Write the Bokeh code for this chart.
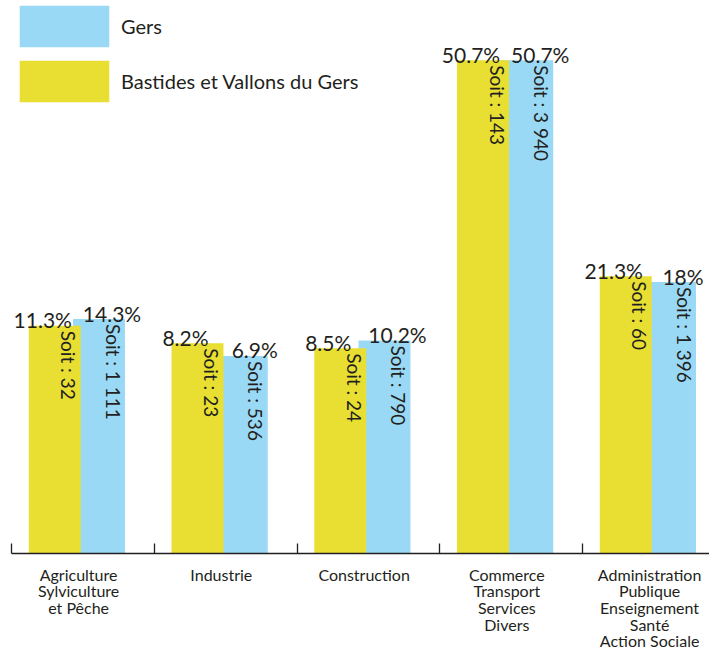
import math
from bokeh.plotting import figure
from bokeh.models import ColumnDataSource, Range1d, FixedTicker, Legend, LegendItem
from bokeh.core.properties import value
from bokeh.embed import file_html
from bokeh.resources import INLINE

# ---- data ----
categories = [
    "Agriculture\nSylviculture\net Pêche",
    "Industrie",
    "Construction",
    "Commerce\nTransport\nServices\nDivers",
    "Administration\nPublique\nEnseignement\nSanté\nAction Sociale",
]
series_names = ["Gers", "Bastides et Vallons du Gers"]
pct_bastides = [11.3, 8.2, 8.5, 50.7, 21.3]
pct_gers = [14.3, 6.9, 10.2, 50.7, 18]
count_bastides = [32, 23, 24, 143, 60]
count_gers = [1111, 536, 790, 3940, 1396]
# bar lengths as drawn in the picture (not proportional to the labels)
bar_bastides = [23.4, 21.6, 21.1, 50.7, 28.5]
bar_gers = [24.1, 20.3, 21.9, 50.7, 27.9]

# ---- style ----
YELLOW = "#E8DF32"
BLUE = "#9AD9F6"
DARK = "#231F20"
FONT = value("Lato")
BAR_W = 0.364
OFF_Y = 0.303
OFF_B = 0.613
OFF_LABEL = 0.47
CAT_PX = 142.75
PX_PER_UNIT = 9.783
FRAME_LEFT = 11
FRAME_H = 556
W, H = 709, 653


def fmt_pct(v):
    return f"{v:g}%"


def fmt_count(n):
    return "Soit : " + f"{n:,}".replace(",", " ")


idx = list(range(len(categories)))
src_y = ColumnDataSource(dict(
    x=[i + OFF_Y for i in idx], top=bar_bastides,
    pct=[fmt_pct(v) for v in pct_bastides],
    cnt=[fmt_count(n) for n in count_bastides]))
src_b = ColumnDataSource(dict(
    x=[i + OFF_B for i in idx], top=bar_gers,
    pct=[fmt_pct(v) for v in pct_gers],
    cnt=[fmt_count(n) for n in count_gers]))

p = figure(width=W, height=H,
           x_range=Range1d(0, (W - FRAME_LEFT) / CAT_PX),
           y_range=Range1d(0, FRAME_H / PX_PER_UNIT),
           output_backend="svg", toolbar_location=None, tools="",
           min_border_left=FRAME_LEFT, min_border_right=0, min_border_top=0,
           min_border_bottom=H - FRAME_H, y_axis_location=None)
p.xgrid.visible = False
p.ygrid.visible = False
p.outline_line_color = None
p.background_fill_color = "white"

centers = [i + OFF_LABEL for i in idx]
ax = p.xaxis[0]
ax.ticker = FixedTicker(ticks=centers, minor_ticks=idx)
ax.major_label_overrides = {c: lab for c, lab in zip(centers, categories)}
ax.major_tick_in = 0
ax.major_tick_out = 0
ax.minor_tick_in = 10
ax.minor_tick_out = 0
ax.minor_tick_line_color = DARK
ax.minor_tick_line_width = 1.3
ax.axis_line_color = DARK
ax.axis_line_width = 1.3
ax.major_label_text_font = "Lato"
ax.major_label_text_font_size = "16px"
ax.major_label_text_color = DARK
ax.major_label_text_line_height = 0.88
ax.major_label_standoff = 11

rb = p.vbar(x="x", top="top", bottom=0, width=BAR_W, source=src_b, fill_color=BLUE, line_color=None)
ry = p.vbar(x="x", top="top", bottom=0, width=BAR_W, source=src_y, fill_color=YELLOW, line_color=None)

for src, dx in ((src_y, -12), (src_b, 13)):
    p.text(x="x", y="top", text="pct", source=src, x_offset=dx, y_offset=-6,
           text_align="center", text_baseline="alphabetic", text_font=FONT,
           text_font_size="21px", text_color=DARK)
    p.text(x="x", y="top", text="cnt", source=src, angle=-math.pi / 2,
           x_offset=14, y_offset=5, text_align="left", text_baseline="alphabetic",
           text_font=FONT, text_font_size="19px", text_color=DARK)

legend = Legend(items=[LegendItem(label=series_names[0], renderers=[rb]),
                       LegendItem(label=series_names[1], renderers=[ry])],
                location=(-3, 446), glyph_width=112, glyph_height=52, spacing=3,
                padding=0, margin=0, label_standoff=1, border_line_color=None,
                background_fill_alpha=0, label_text_font="Lato",
                label_text_font_size="20px", label_text_color=DARK)
p.add_layout(legend)

open("out.html", "w").write(file_html(p, INLINE))
